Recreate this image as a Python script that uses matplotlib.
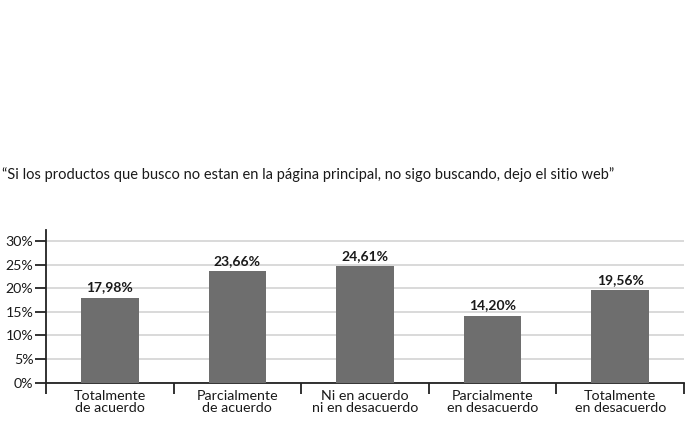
import matplotlib
matplotlib.use('Agg')
import matplotlib.pyplot as plt

plt.rcParams['font.family'] = ['Lato', 'DejaVu Sans']

categories = ['Totalmente\nde acuerdo', 'Parcialmente\nde acuerdo', 'Ni en acuerdo\nni en desacuerdo',
              'Parcialmente\nen desacuerdo', 'Totalmente\nen desacuerdo']
values = [17.98, 23.66, 24.61, 14.20, 19.56]
value_labels = ['17,98%', '23,66%', '24,61%', '14,20%', '19,56%']
yticks = [0, 5, 10, 15, 20, 25, 30]
title = '\u201cSi los productos que busco no estan en la página principal, no sigo buscando, dejo el sitio web\u201d'

fig = plt.figure(figsize=(6.85, 4.32), dpi=100)
ax = fig.add_axes([46 / 685, 1 - 382.7 / 432, 638 / 685, 152.7 / 432])

pos = list(range(len(values)))
ax.bar(pos, values, width=0.45, color='#6e6e6e', zorder=3)
for x, v, lab in zip(pos, values, value_labels):
    ax.annotate(lab, (x, v), xytext=(0, 3), textcoords='offset points',
                ha='center', va='bottom', fontsize=10, fontweight='bold', color='#1a1a1a')

ax.set_xlim(-0.5, 4.5)
ax.set_ylim(0, 32.3)
ax.set_yticks(yticks)
ax.set_yticklabels([str(t) + '%' for t in yticks])
ax.yaxis.grid(True, color='#d9d9d9', linewidth=1.4, zorder=0)

# category boundaries get the long ticks, labels sit in the middle
ax.set_xticks([p - 0.5 for p in pos] + [pos[-1] + 0.5])
ax.set_xticklabels([])
ax.set_xticks(pos, minor=True)
ax.set_xticklabels(categories, minor=True, fontsize=10.3, linespacing=1.05)
ax.tick_params(axis='x', which='major', length=8, width=1.3, color='#222222')
ax.tick_params(axis='x', which='minor', length=0, pad=5, labelcolor='#1a1a1a')
ax.tick_params(axis='y', length=8, width=1.3, color='#222222', labelsize=10.2, pad=1, labelcolor='#1a1a1a')

for s in ['top', 'right']:
    ax.spines[s].set_visible(False)
ax.spines['left'].set_linewidth(1.3)
ax.spines['bottom'].set_linewidth(1.3)
ax.spines['left'].set_color('#222222')
ax.spines['bottom'].set_color('#222222')

fig.text(2 / 685, 1 - 175 / 432, title, ha='left', va='center', fontsize=10.5, color='#1a1a1a')

fig.savefig('out.png', dpi=100)
